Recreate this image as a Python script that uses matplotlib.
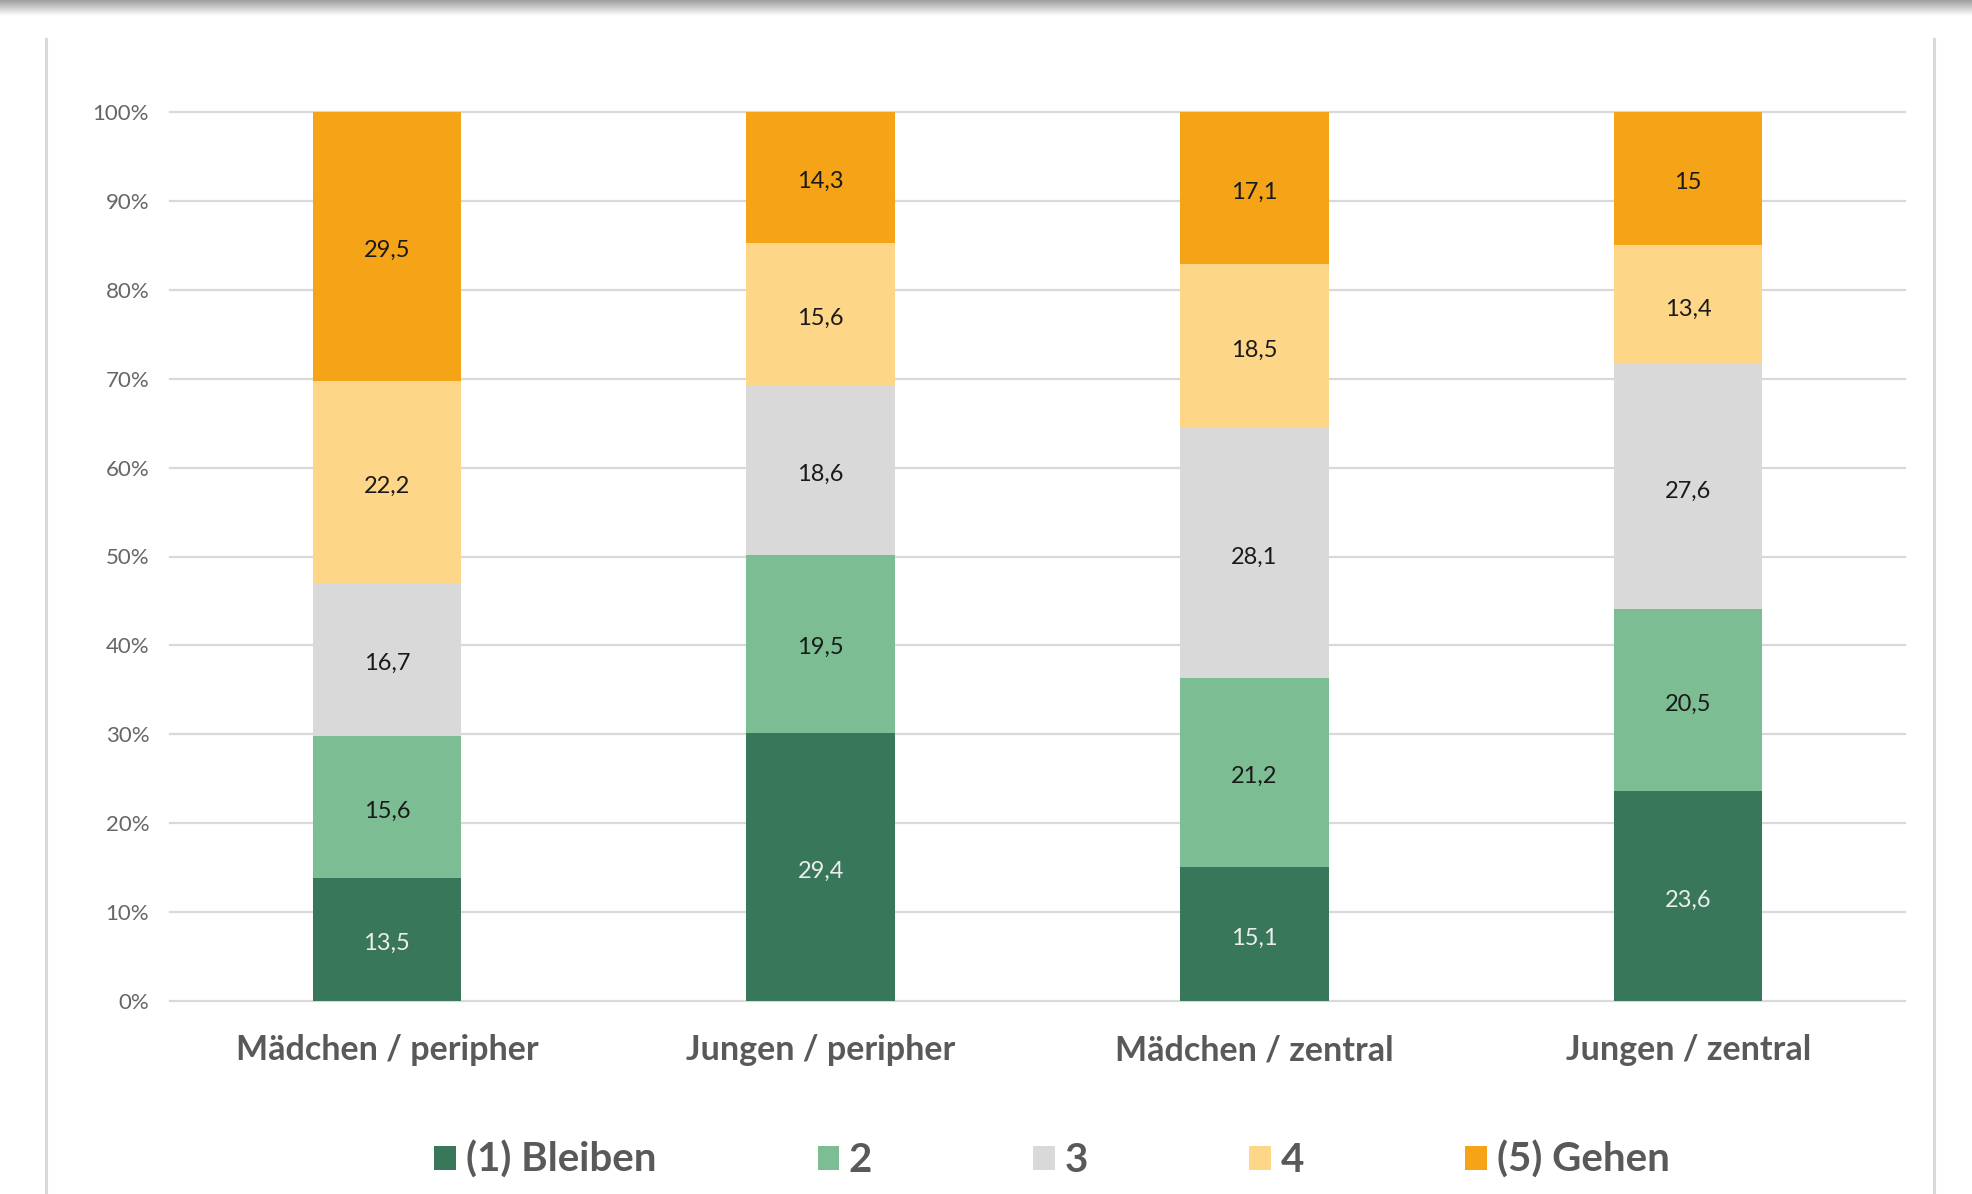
import numpy as np
import matplotlib
matplotlib.use("Agg")
import matplotlib.pyplot as plt
from matplotlib.lines import Line2D

plt.rcParams['font.family'] = ['Lato', 'DejaVu Sans']

categories = ["Mädchen / peripher", "Jungen / peripher", "Mädchen / zentral", "Jungen / zentral"]
series_names = ["(1) Bleiben", "2", "3", "4", "(5) Gehen"]
bleiben = [13.5, 29.4, 15.1, 23.6]
s2 = [15.6, 19.5, 21.2, 20.5]
s3 = [16.7, 18.6, 28.1, 27.6]
s4 = [22.2, 15.6, 18.5, 13.4]
gehen = [29.5, 14.3, 17.1, 15]
yticks = [0, 10, 20, 30, 40, 50, 60, 70, 80, 90, 100]

colors = ["#38775A", "#7CBD93", "#D9D9D9", "#FDD688", "#F5A418"]
label_colors = ["#EDEDED", "#1A1A1A", "#1A1A1A", "#1A1A1A", "#1A1A1A"]

data = np.array([bleiben, s2, s3, s4, gehen], dtype=float)
totals = data.sum(axis=0)
shares = data / totals * 100

W, H = 1972, 1194
fig = plt.figure(figsize=(W / 100, H / 100), dpi=100)
ax = fig.add_axes([170 / W, 1 - 1001 / H, (1905 - 170) / W, (1001 - 112) / H])

x = np.arange(len(categories))
bottom = np.zeros(len(categories))
for i, name in enumerate(series_names):
    ax.bar(x, shares[i], bottom=bottom, width=0.342, color=colors[i], label=name, zorder=3)
    for j in range(len(categories)):
        txt = f"{data[i, j]:g}".replace('.', ',')
        ax.annotate(txt, (x[j], bottom[j] + shares[i, j] / 2), xytext=(0, -3),
                    textcoords='offset points', ha='center', va='center',
                    fontsize=17, color=label_colors[i], zorder=4)
    bottom += shares[i]

ax.set_xlim(-0.5, len(categories) - 0.5)
ax.set_ylim(0, 100)
ax.set_yticks(yticks)
ax.set_yticklabels([f"{t}%" for t in yticks], fontsize=16, color="#666666")
ax.set_xticks(x)
ax.set_xticklabels(categories, fontsize=24.5, fontweight='bold', color="#595959")
ax.tick_params(axis='y', length=0, pad=15)
ax.tick_params(axis='x', length=0, pad=24)
for s in ax.spines.values():
    s.set_visible(False)
ax.yaxis.grid(True, color="#D9D9D9", linewidth=1.6, zorder=0)
ax.set_axisbelow(True)
for gl in ax.get_ygridlines():
    gl.set_clip_on(False)

leg = ax.legend(loc='center', bbox_to_anchor=(1052 / W, 1 - 1160 / H), bbox_transform=fig.transFigure,
                ncol=5, frameon=False, fontsize=29, handlelength=0.53, handleheight=0.53,
                handletextpad=0.25, columnspacing=4.0)
for t in leg.get_texts():
    t.set_fontweight('bold')
    t.set_color("#595959")

# border lines of the chart frame
for xb in (46, 1934):
    fig.add_artist(Line2D([xb / W, xb / W], [0, 1 - 39 / H], color="#D9D9D9", linewidth=2.2,
                          transform=fig.transFigure))

# top shadow band
sh = fig.add_axes([0, 1 - 16 / H, 1, 16 / H])
grad = np.linspace(0.62, 1.0, 50).reshape(-1, 1)
sh.imshow(np.repeat(grad, 2, axis=1), cmap='gray', vmin=0, vmax=1, aspect='auto',
          extent=[0, 1, 0, 1])
sh.set_axis_off()

fig.savefig("out.png", dpi=100)
